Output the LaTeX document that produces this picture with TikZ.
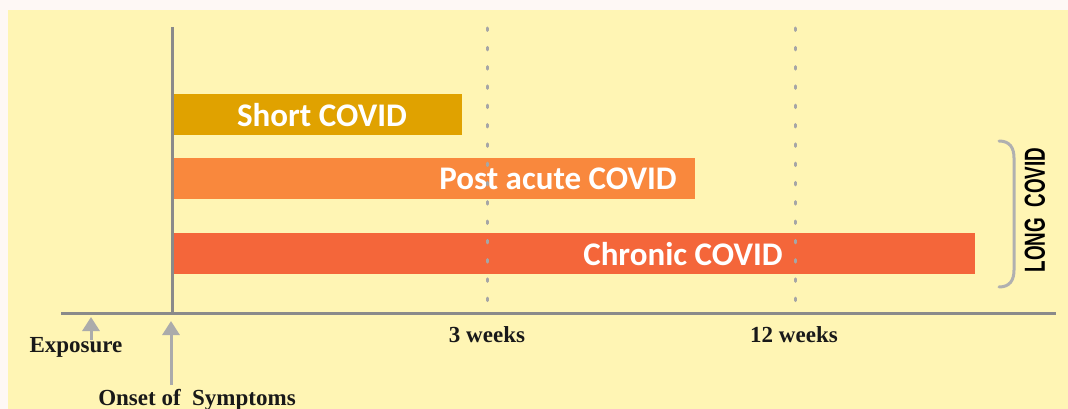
\documentclass[tikz,border=0pt]{standalone}
\usepackage{fontspec}
\setmainfont{Liberation Serif}
\newfontfamily\barfont{Carlito}
\newfontfamily\longfont{Liberation Sans}
\usetikzlibrary{arrows.meta}
\definecolor{outerbg}{HTML}{FEF8F5}
\definecolor{panelbg}{HTML}{FFF5B4}
\definecolor{axisgray}{HTML}{8A8A8A}
\definecolor{dotgray}{HTML}{A6A6A6}
\definecolor{arrgray}{HTML}{ABABAB}
\definecolor{bracegray}{HTML}{B0B0B0}
\definecolor{shortc}{HTML}{E0A200}
\definecolor{postc}{HTML}{F9883D}
\definecolor{chronc}{HTML}{F4663A}
\tikzset{
  bar/.style={draw=none, minimum height=41pt, inner sep=0pt, anchor=north west},
  barlabel/.style={text=white, font=\barfont\bfseries\fontsize{33}{36}\selectfont, inner sep=0pt},
  axisline/.style={draw=axisgray, line width=3pt},
  dotline/.style={draw=dotgray, line width=3pt, line cap=round, dash pattern=on 2.5pt off 16.8pt},
  uparrow/.style={draw=arrgray, line width=3pt, -{Triangle[width=17pt,length=14pt]}},
  timelabel/.style={font=\bfseries\fontsize{23}{26}\selectfont, text=black!90, inner sep=0pt},
  bracestyle/.style={draw=bracegray, line width=3pt, line cap=round}
}
\begin{document}
\begin{tikzpicture}[x=1pt,y=-1pt]
\useasboundingbox (0,0) rectangle (1068,409);
\fill[outerbg] (0,0) rectangle (1068,409);
\fill[panelbg] (8,10) rectangle (1068,409);

% dotted week lines
\coordinate (w3top) at (487,28);
\coordinate (w3bot) at (487,302);
\coordinate (w12top) at (795,28);
\coordinate (w12bot) at (795,302);

% bars
\node[bar, fill=shortc, minimum width=289pt] (short) at (173,94) {};
\node[bar, fill=postc, minimum width=522pt] (post) at (173,158) {};
\node[bar, fill=chronc, minimum width=802pt] (chron) at (173,233) {};
\node[barlabel] (shortlbl) at (322,115) {Short COVID};
\node[barlabel] (postlbl) at (558,179) {Post acute COVID};
\node[barlabel] (chronlbl) at (683,254) {Chronic COVID};

% dots drawn over bars
\draw[dotline] (w3top) -- (w3bot);
\draw[dotline] (w12top) -- (w12bot);

% axes
\coordinate (vtop) at (172,27);
\coordinate (origin) at (172,313);
\coordinate (hleft) at (61,313);
\coordinate (hright) at (1056,313);
\draw[axisline] (vtop) -- (origin);
\draw[axisline] (hleft) -- (hright);

% arrows
\coordinate (expbase) at (91,340);
\coordinate (exptip) at (91,317);
\coordinate (onsbase) at (171,385);
\coordinate (onstip) at (171,321);
\draw[uparrow] (expbase) -- (exptip);
\draw[uparrow] (onsbase) -- (onstip);

% labels
\node[timelabel] (explbl) at (76,347) {Exposure};
\node[timelabel] (onslbl) at (197,400) {Onset of\ \ Symptoms};
\node[timelabel] (w3lbl) at (487,335) {3 weeks};
\node[timelabel] (w12lbl) at (794,335) {12 weeks};

% brace
\coordinate (btop) at (999,141);
\coordinate (bbot) at (999,287);
\draw[bracestyle] (btop) .. controls (1010,141) and (1014,148) .. (1014,158)
  -- (1014,270) .. controls (1014,280) and (1010,287) .. (bbot);
\node[rotate=90, inner sep=0pt, font=\longfont\bfseries\fontsize{29}{30}\selectfont] (longlbl) at (1035,210) {\scalebox{0.65}[1]{LONG\ \ COVID}};
\end{tikzpicture}
\end{document}
